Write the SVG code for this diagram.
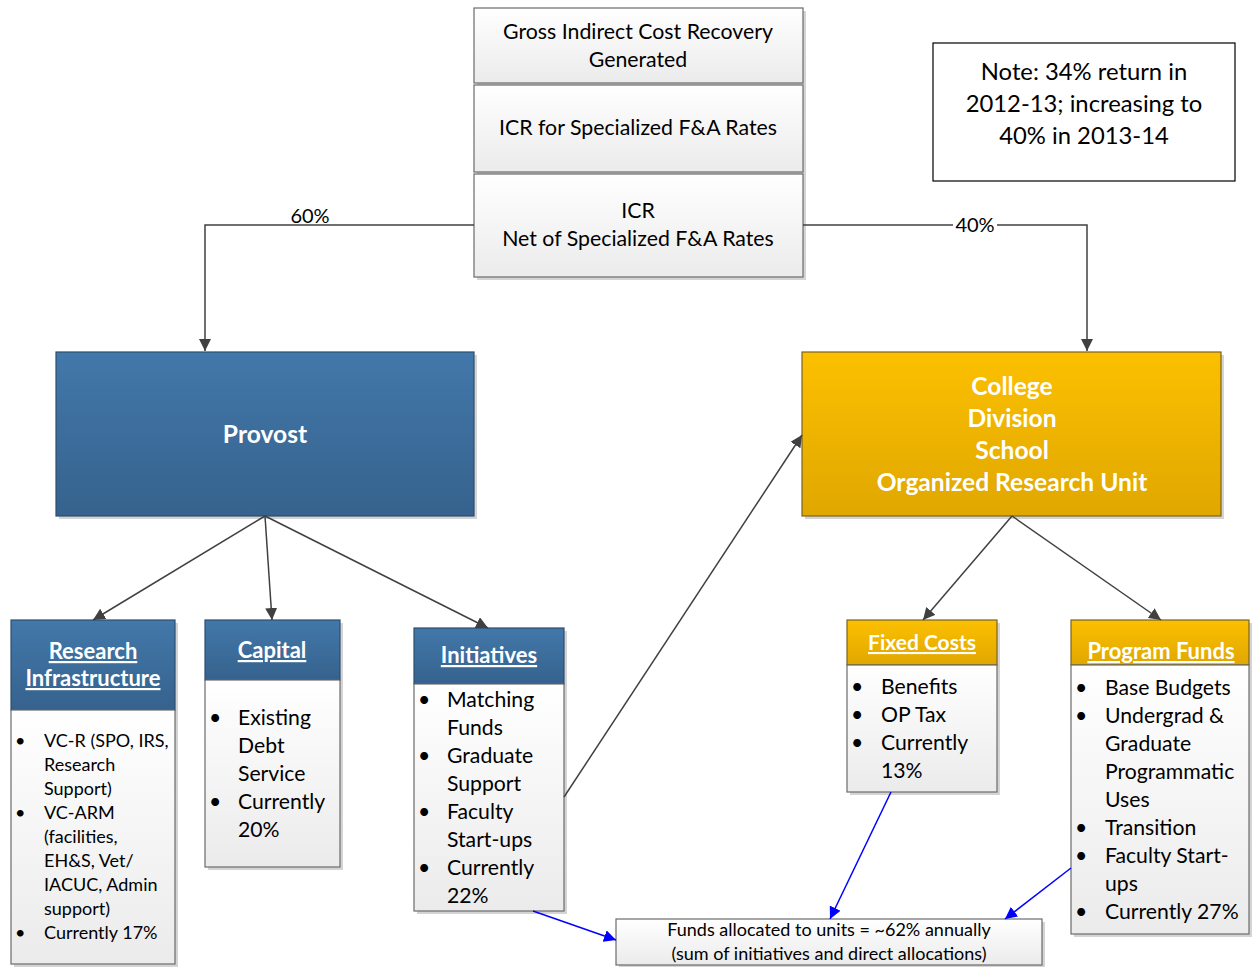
<svg xmlns="http://www.w3.org/2000/svg" width="1252" height="967" viewBox="0 0 1252 967">
<defs>
<linearGradient id="gw" x1="0" y1="0" x2="0" y2="1"><stop offset="0" stop-color="#ffffff"/><stop offset="1" stop-color="#ebebeb"/></linearGradient>
<linearGradient id="gb" x1="0" y1="0" x2="0" y2="1"><stop offset="0" stop-color="#4278aa"/><stop offset="1" stop-color="#36628d"/></linearGradient>
<linearGradient id="gy" x1="0" y1="0" x2="0" y2="1"><stop offset="0" stop-color="#fcc000"/><stop offset="1" stop-color="#e0a700"/></linearGradient>
<marker id="ah" viewBox="0 0 10 10" refX="10" refY="5" markerWidth="12" markerHeight="12" markerUnits="userSpaceOnUse" orient="auto"><path d="M0,0 L10,5 L0,10 z" fill="#404040"/></marker>
<marker id="ab" viewBox="0 0 10 10" refX="10" refY="5" markerWidth="12" markerHeight="12" markerUnits="userSpaceOnUse" orient="auto"><path d="M0,0 L10,5 L0,10 z" fill="#0000ff"/></marker>
</defs>
<style>
text{font-family:Lato,"Open Sans","Liberation Sans",sans-serif;fill:#000}
.w{fill:url(#gw);stroke:#6b6b6b;stroke-width:1.2}
.b{fill:url(#gb);stroke:#2d4d6e;stroke-width:1.2}
.y{fill:url(#gy);stroke:#7a6320;stroke-width:1.2}
.sh{fill:#d4d4d4}
.c{stroke:#404040;stroke-width:1.5;fill:none}
.bl{stroke:#0000ff;stroke-width:1.5;fill:none}
.top{font-size:21.3px}
.lab{font-size:20px}
.t21{font-size:21.2px}
.t18{font-size:18px}
.t17{font-size:18px}
.mid{text-anchor:middle}
.hw{fill:#fff;font-weight:bold;text-decoration:underline;font-size:22px}
.hd{fill:#fff;font-weight:bold;font-size:24.6px;text-anchor:middle}
</style>

<g id="icr-stack">
<rect class="sh" x="477" y="11" width="329" height="269"/>
<rect class="w" x="474" y="8" width="329" height="75"/>
<text class="top mid" x="638" y="39">Gross Indirect Cost Recovery</text>
<text class="top mid" x="638" y="67">Generated</text>
<rect class="w" x="474" y="85" width="329" height="87"/>
<text class="top mid" x="638" y="135">ICR for Specialized F&amp;A Rates</text>
<rect class="w" x="474" y="174" width="329" height="103"/>
<text class="top mid" x="638" y="218">ICR</text>
<text class="top mid" x="638" y="246">Net of Specialized F&amp;A Rates</text>
</g>

<g id="note">
<rect x="933" y="43" width="302" height="138" fill="#fff" stroke="#000" stroke-width="1.2"/>
<text class="mid" font-size="23.8" x="1084" y="80">Note: 34% return in</text>
<text class="mid" font-size="23.8" x="1084" y="112">2012-13; increasing to</text>
<text class="mid" font-size="23.8" x="1084" y="144">40% in 2013-14</text>
</g>

<g id="provost">
<rect class="sh" x="59" y="355" width="418" height="164"/>
<rect class="b" x="56" y="352" width="418" height="164"/>
<text class="hd" x="265" y="443">Provost</text>
</g>

<g id="college">
<rect class="sh" x="805" y="355" width="419" height="164"/>
<rect class="y" x="802" y="352" width="419" height="164"/>
<text class="hd" x="1012" y="395">College</text>
<text class="hd" x="1012" y="427">Division</text>
<text class="hd" x="1012" y="459">School</text>
<text class="hd" x="1012" y="491">Organized Research Unit</text>
</g>

<g id="research-infrastructure">
<rect class="sh" x="14" y="623" width="164" height="344"/>
<rect class="b" x="11" y="620" width="164" height="90"/>
<rect class="w" x="11" y="710" width="164" height="254"/>
<text class="hw mid" x="93" y="659">Research</text>
<text class="hw mid" x="93" y="686">Infrastructure</text>
<g class="t17">
<text x="15" y="747">•</text><text x="44" y="747">VC-R (SPO, IRS,</text>
<text x="44" y="771">Research</text>
<text x="44" y="795">Support)</text>
<text x="15" y="819">•</text><text x="44" y="819">VC-ARM</text>
<text x="44" y="843">(facilities,</text>
<text x="44" y="867">EH&amp;S, Vet/</text>
<text x="44" y="891">IACUC, Admin</text>
<text x="44" y="915">support)</text>
<text x="15" y="939">•</text><text x="44" y="939">Currently 17%</text>
</g>
</g>

<g id="capital">
<rect class="sh" x="208" y="623" width="135" height="247"/>
<rect class="b" x="205" y="620" width="135" height="60"/>
<rect class="w" x="205" y="680" width="135" height="187"/>
<text class="hw mid" x="272" y="658">Capital</text>
<g class="t21">
<text x="209" y="725">•</text><text x="238" y="725">Existing</text>
<text x="238" y="753">Debt</text>
<text x="238" y="781">Service</text>
<text x="209" y="809">•</text><text x="238" y="809">Currently</text>
<text x="238" y="837">20%</text>
</g>
</g>

<g id="initiatives">
<rect class="sh" x="417" y="631" width="150" height="283"/>
<rect class="b" x="414" y="628" width="150" height="56"/>
<rect class="w" x="414" y="684" width="150" height="227"/>
<text class="hw mid" x="489" y="663">Initiatives</text>
<g class="t21">
<text x="418" y="707">•</text><text x="447" y="707">Matching</text>
<text x="447" y="735">Funds</text>
<text x="418" y="763">•</text><text x="447" y="763">Graduate</text>
<text x="447" y="791">Support</text>
<text x="418" y="819">•</text><text x="447" y="819">Faculty</text>
<text x="447" y="847">Start-ups</text>
<text x="418" y="875">•</text><text x="447" y="875">Currently</text>
<text x="447" y="903">22%</text>
</g>
</g>

<g id="fixed-costs">
<rect class="sh" x="850" y="623" width="150" height="172"/>
<rect class="y" x="847" y="620" width="150" height="45"/>
<rect class="w" x="847" y="665" width="150" height="127"/>
<text class="hw mid" style="font-size:21px" x="922" y="650">Fixed Costs</text>
<g class="t21">
<text x="851" y="694">•</text><text x="881" y="694">Benefits</text>
<text x="851" y="722">•</text><text x="881" y="722">OP Tax</text>
<text x="851" y="750">•</text><text x="881" y="750">Currently</text>
<text x="881" y="778">13%</text>
</g>
</g>

<g id="program-funds">
<rect class="sh" x="1074" y="623" width="178" height="314"/>
<rect class="y" x="1071" y="620" width="178" height="45"/>
<rect class="w" x="1071" y="665" width="178" height="269"/>
<text class="hw mid" x="1161" y="659">Program Funds</text>
<g class="t21">
<text x="1075" y="695">•</text><text x="1105" y="695">Base Budgets</text>
<text x="1075" y="723">•</text><text x="1105" y="723">Undergrad &amp;</text>
<text x="1105" y="751">Graduate</text>
<text x="1105" y="779">Programmatic</text>
<text x="1105" y="807">Uses</text>
<text x="1075" y="835">•</text><text x="1105" y="835">Transition</text>
<text x="1075" y="863">•</text><text x="1105" y="863">Faculty Start-</text>
<text x="1105" y="891">ups</text>
<text x="1075" y="919">•</text><text x="1105" y="919">Currently 27%</text>
</g>
</g>

<g id="funds-allocated">
<rect class="sh" x="619" y="922" width="426" height="46"/>
<rect class="w" x="616" y="919" width="426" height="46"/>
<text class="t18 mid" x="829" y="936">Funds allocated to units = ~62% annually</text>
<text class="t18 mid" x="829" y="960">(sum of initiatives and direct allocations)</text>
</g>

<g id="connectors">
<path class="c" d="M474,225 H205 V351" marker-end="url(#ah)"/>
<path class="c" d="M803,225 H1087 V351" marker-end="url(#ah)"/>
<rect x="953" y="214" width="44" height="20" fill="#fff"/>
<text class="lab mid" x="310" y="223">60%</text>
<text class="lab mid" x="975" y="232">40%</text>
<path class="c" d="M265,516 L93,620" marker-end="url(#ah)"/>
<path class="c" d="M265,516 L272,620" marker-end="url(#ah)"/>
<path class="c" d="M265,516 L488,628" marker-end="url(#ah)"/>
<path class="c" d="M564,797 L802,435" marker-end="url(#ah)"/>
<path class="c" d="M1012,516 L923,620" marker-end="url(#ah)"/>
<path class="c" d="M1012,516 L1161,620" marker-end="url(#ah)"/>
<path class="bl" d="M533,911 L616,940" marker-end="url(#ab)"/>
<path class="bl" d="M891,792 L830,919" marker-end="url(#ab)"/>
<path class="bl" d="M1071,868 L1005,919" marker-end="url(#ab)"/>
</g>
</svg>
